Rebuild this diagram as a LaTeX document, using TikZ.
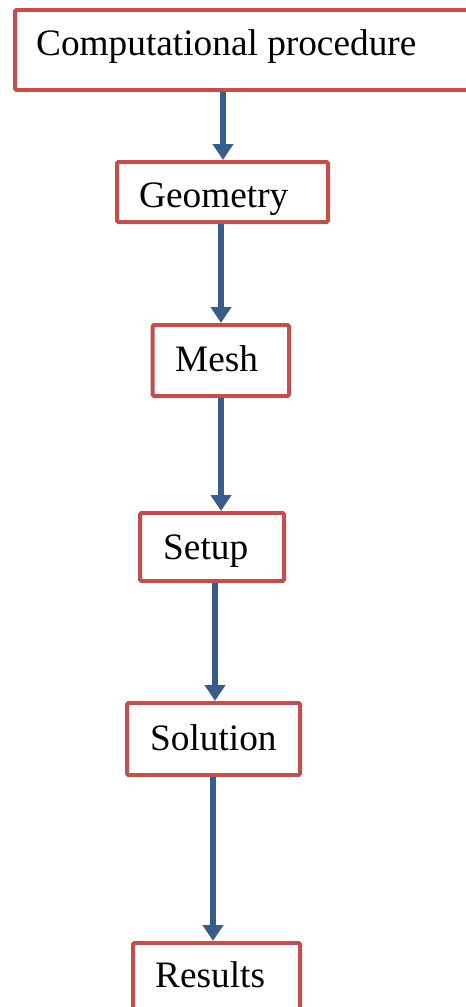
\documentclass[tikz,border=0pt]{standalone}
\usepackage{fontspec}
\setmainfont{Liberation Serif}
\usetikzlibrary{arrows.meta}
\definecolor{boxred}{HTML}{C0504D}
\definecolor{arrblue}{HTML}{385D8A}
\begin{document}
\begin{tikzpicture}[x=1pt,y=-1pt,
  stepbox/.style={draw=boxred,line width=4pt,rounded corners=1.5pt,fill=white,inner sep=0pt},
  lbl/.style={anchor=base west,inner sep=0pt,font=\fontsize{37.3}{44}\selectfont},
  arr/.style={draw=arrblue,line width=5.5pt,-{Triangle[width=20pt,length=16pt]}}]
\useasboundingbox (0,0) rectangle (466,1007);
\node[stepbox,minimum width=460pt,minimum height=80pt] (comp) at (245,50) {};
\node[stepbox,minimum width=211pt,minimum height=60pt] (geo) at (222.5,192) {};
\node[stepbox,minimum width=136.5pt,minimum height=71pt] (mesh) at (220.75,360.5) {};
\node[stepbox,minimum width=144pt,minimum height=68pt] (setup) at (212,547) {};
\node[stepbox,minimum width=173pt,minimum height=72pt] (sol) at (213.5,739) {};
\node[stepbox,minimum width=167pt,minimum height=72pt] (res) at (216.5,979) {};
\node[lbl] (compT) at (36,55) {Computational procedure};
\node[lbl] (geoT) at (139,207) {Geometry};
\node[lbl] (meshT) at (175,371) {Mesh};
\node[lbl] (setupT) at (163,559) {Setup};
\node[lbl] (solT) at (150,750) {Solution};
\node[lbl] (resT) at (155,987) {Results};
\draw[arr] (comp.south -| 223,0) -- (geo.north -| 223,0);
\draw[arr] (geo.south -| 221,0) -- (mesh.north -| 221,0);
\draw[arr] (mesh.south -| 221,0) -- (setup.north -| 221,0);
\draw[arr] (setup.south -| 215,0) -- (sol.north -| 215,0);
\draw[arr] (sol.south -| 213,0) -- (res.north -| 213,0);
\end{tikzpicture}
\end{document}
